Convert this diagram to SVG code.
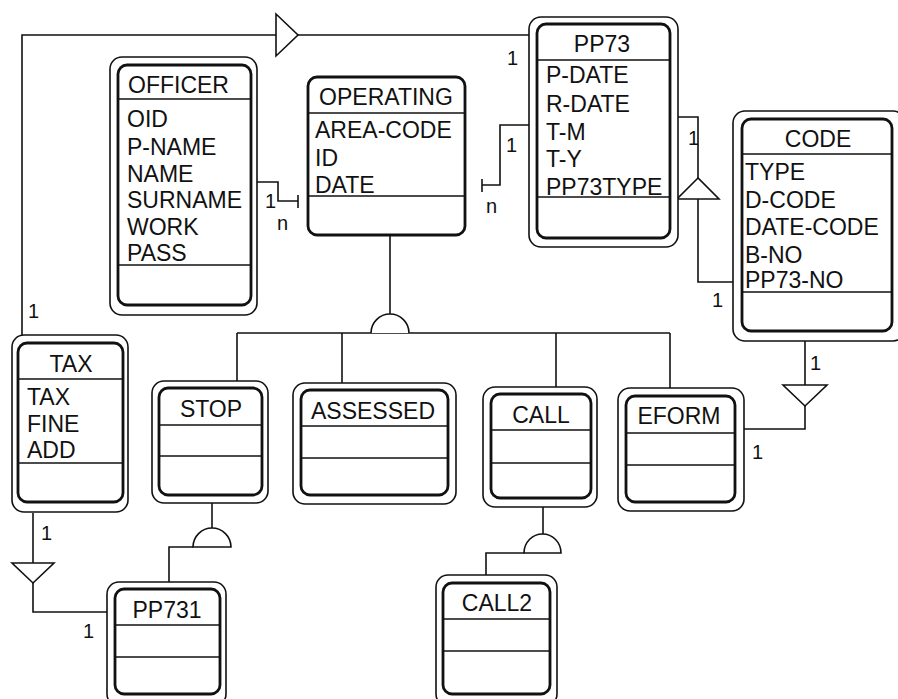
<svg xmlns="http://www.w3.org/2000/svg" width="898" height="699" viewBox="0 0 898 699">
<style>
.outer{fill:#fff;stroke:#111;stroke-width:1.6}
.inner{fill:#fff;stroke:#111;stroke-width:2.8}
.sep{stroke:#111;stroke-width:1.6}
.t{font-family:"Liberation Sans",Arial,sans-serif;font-size:23px;fill:#111}
.h{text-anchor:middle}
.lbl{font-family:"Liberation Sans",Arial,sans-serif;font-size:20px;fill:#111}
.c{fill:none;stroke:#111;stroke-width:1.6}
.sym{fill:#fff;stroke:#111;stroke-width:1.6}
</style>
<rect width="898" height="699" fill="#fff"/>
<g id="connectors">
<polyline class="c" points="22,335 22,35 276,35"/>
<polygon class="sym" points="276,14 298,35 276,56"/>
<line class="c" x1="298" y1="35" x2="529" y2="35"/>
<polyline class="c" points="257,182 278,182 278,201 298,201"/>
<line class="c" x1="298" y1="195" x2="298" y2="208"/>
<polyline class="c" points="529,125 500,125 500,185 482,185"/>
<line class="c" x1="482" y1="179" x2="482" y2="192"/>
<line class="c" x1="390" y1="235" x2="390" y2="314"/>
<line class="c" x1="237" y1="333" x2="670" y2="333"/>
<path class="sym" d="M371,333 A19,19 0 0 1 409,333"/>
<line class="c" x1="237" y1="333" x2="237" y2="388"/>
<line class="c" x1="342" y1="333" x2="342" y2="390"/>
<line class="c" x1="556" y1="333" x2="556" y2="394"/>
<line class="c" x1="670" y1="333" x2="670" y2="396"/>
<polyline class="c" points="678,117 698,117 698,178"/>
<polygon class="sym" points="698,178 677,199 719,199"/>
<polyline class="c" points="698,199 698,282 733,282"/>
<polyline class="c" points="744,429 805,429 805,406"/>
<polygon class="sym" points="805,406 783,385 827,385"/>
<line class="c" x1="805" y1="385" x2="805" y2="341"/>
<line class="c" x1="33" y1="513" x2="33" y2="563"/>
<polygon class="sym" points="12,563 54,563 33,583"/>
<polyline class="c" points="33,583 33,612 107,612"/>
<line class="c" x1="212" y1="503" x2="212" y2="528"/>
<path class="sym" d="M193,547 A19,19 0 0 1 231,547 Z"/>
<polyline class="c" points="193,547 169,547 169,589"/>
<line class="c" x1="543" y1="507" x2="543" y2="534"/>
<path class="sym" d="M524,553 A18.5,19 0 0 1 561,553 Z"/>
<polyline class="c" points="524,553 486,553 486,583"/>
<text class="lbl" x="265" y="208">1</text>
<text class="lbl" x="277" y="230">n</text>
<text class="lbl" x="506" y="152">1</text>
<text class="lbl" x="486" y="213">n</text>
<text class="lbl" x="507" y="65">1</text>
<text class="lbl" x="28" y="318">1</text>
<text class="lbl" x="688" y="145">1</text>
<text class="lbl" x="712" y="307">1</text>
<text class="lbl" x="810" y="370">1</text>
<text class="lbl" x="752" y="459">1</text>
<text class="lbl" x="41" y="540">1</text>
<text class="lbl" x="83" y="638">1</text>
</g>
<g id="officer">
<rect class="outer" x="110" y="57" width="147" height="258" rx="12"/>
<rect class="inner" x="118" y="65" width="133" height="240" rx="9"/>
<line class="sep" x1="118" y1="99" x2="251" y2="99"/>
<line class="sep" x1="118" y1="265" x2="251" y2="265"/>
<text class="t" x="128" y="93">OFFICER</text>
<text class="t" x="127" y="127">OID</text>
<text class="t" x="127" y="155">P-NAME</text>
<text class="t" x="127" y="182">NAME</text>
<text class="t" x="127" y="208">SURNAME</text>
<text class="t" x="127" y="235">WORK</text>
<text class="t" x="127" y="261">PASS</text>
</g>
<g id="operating">
<rect class="inner" x="308" y="77" width="157" height="158" rx="9"/>
<line class="sep" x1="308" y1="113" x2="465" y2="113"/>
<line class="sep" x1="308" y1="196" x2="465" y2="196"/>
<text class="t h" x="386" y="105">OPERATING</text>
<text class="t" x="315" y="138">AREA-CODE</text>
<text class="t" x="315" y="166">ID</text>
<text class="t" x="315" y="193">DATE</text>
</g>
<g id="pp73">
<rect class="outer" x="529" y="17" width="149" height="230" rx="12"/>
<rect class="inner" x="537" y="24" width="133" height="214" rx="9"/>
<line class="sep" x1="537" y1="60" x2="670" y2="60"/>
<line class="sep" x1="537" y1="197" x2="670" y2="197"/>
<text class="t h" x="602" y="52">PP73</text>
<text class="t" x="546" y="83">P-DATE</text>
<text class="t" x="546" y="112">R-DATE</text>
<text class="t" x="546" y="140">T-M</text>
<text class="t" x="546" y="167">T-Y</text>
<text class="t" x="546" y="195">PP73TYPE</text>
</g>
<g id="code">
<rect class="outer" x="733" y="111" width="172" height="230" rx="12"/>
<rect class="inner" x="742" y="119" width="150" height="212" rx="9"/>
<line class="sep" x1="742" y1="154" x2="892" y2="154"/>
<line class="sep" x1="742" y1="292" x2="892" y2="292"/>
<text class="t h" x="818" y="147">CODE</text>
<text class="t" x="745" y="180">TYPE</text>
<text class="t" x="745" y="208">D-CODE</text>
<text class="t" x="745" y="235">DATE-CODE</text>
<text class="t" x="745" y="263">B-NO</text>
<text class="t" x="745" y="288">PP73-NO</text>
</g>
<g id="tax">
<rect class="outer" x="12" y="335" width="116" height="177" rx="12"/>
<rect class="inner" x="18" y="343" width="105" height="159" rx="9"/>
<line class="sep" x1="18" y1="379" x2="123" y2="379"/>
<line class="sep" x1="18" y1="463" x2="123" y2="463"/>
<text class="t h" x="71" y="372">TAX</text>
<text class="t" x="27" y="405">TAX</text>
<text class="t" x="27" y="432">FINE</text>
<text class="t" x="27" y="458">ADD</text>
</g>
<g id="stop">
<rect class="outer" x="152" y="381" width="116" height="122" rx="12"/>
<rect class="inner" x="159" y="388" width="103" height="107" rx="9"/>
<line class="sep" x1="159" y1="425" x2="262" y2="425"/>
<line class="sep" x1="159" y1="456" x2="262" y2="456"/>
<text class="t h" x="211" y="417">STOP</text>
</g>
<g id="assessed">
<rect class="outer" x="293" y="383" width="163" height="121" rx="12"/>
<rect class="inner" x="301" y="390" width="147" height="105" rx="9"/>
<line class="sep" x1="301" y1="426" x2="448" y2="426"/>
<line class="sep" x1="301" y1="458" x2="448" y2="458"/>
<text class="t h" x="373" y="419">ASSESSED</text>
</g>
<g id="call">
<rect class="outer" x="483" y="387" width="114" height="120" rx="12"/>
<rect class="inner" x="491" y="394" width="100" height="104" rx="9"/>
<line class="sep" x1="491" y1="430" x2="591" y2="430"/>
<line class="sep" x1="491" y1="463" x2="591" y2="463"/>
<text class="t h" x="541" y="423">CALL</text>
</g>
<g id="eform">
<rect class="outer" x="618" y="388" width="126" height="123" rx="12"/>
<rect class="inner" x="626" y="396" width="109" height="106" rx="9"/>
<line class="sep" x1="626" y1="433" x2="735" y2="433"/>
<line class="sep" x1="626" y1="465" x2="735" y2="465"/>
<text class="t h" x="679" y="424">EFORM</text>
</g>
<g id="pp731">
<rect class="outer" x="107" y="582" width="119" height="124" rx="12"/>
<rect class="inner" x="115" y="589" width="105" height="105" rx="9"/>
<line class="sep" x1="115" y1="625" x2="220" y2="625"/>
<line class="sep" x1="115" y1="657" x2="220" y2="657"/>
<text class="t h" x="167" y="618">PP731</text>
</g>
<g id="call2">
<rect class="outer" x="436" y="575" width="121" height="131" rx="12"/>
<rect class="inner" x="443" y="583" width="107" height="111" rx="9"/>
<line class="sep" x1="443" y1="619" x2="550" y2="619"/>
<line class="sep" x1="443" y1="651" x2="550" y2="651"/>
<text class="t h" x="497" y="611">CALL2</text>
</g>
</svg>
